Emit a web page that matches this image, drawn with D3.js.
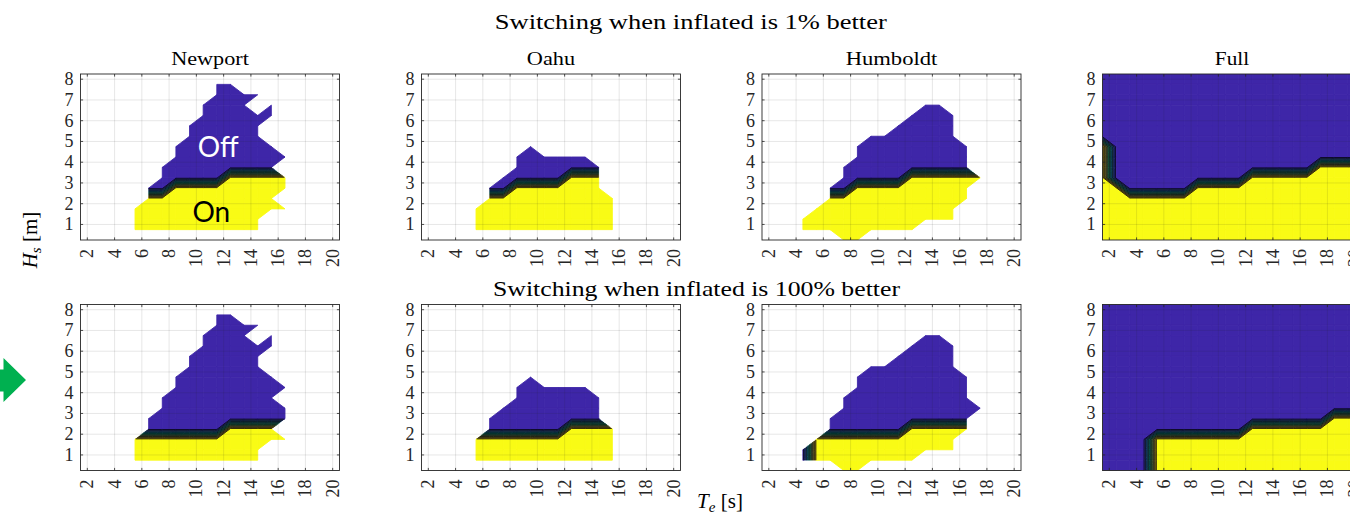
<!DOCTYPE html>
<html>
<head>
<meta charset="utf-8">
<script src="https://cdn.jsdelivr.net/npm/d3@7"></script>
<style>
body { margin: 0; background: #fff; }
svg { display: block; }
</style>
</head>
<body>
<div id="chart"></div>
<script>
// node grid: Te columns 1.5 .. 20.5, Hs rows 8.25 (top) .. 0.25 (bottom)
var teNodes = d3.range(1.5, 21, 1);
var hsNodes = d3.range(8.25, 0, -0.5);

var sites = ["Newport", "Oahu", "Humboldt", "Full"];
var rowTitles = ["Switching when inflated is 1% better", "Switching when inflated is 100% better"];
var xTicks = d3.range(2, 21, 2);
var yTicks = d3.range(1, 9);

// y = inflated (on), b = deflated (off), . = no data
var newport1 = [
  "....................",
  "..........bb........",
  "..........bbbb......",
  ".........bbbb.b.....",
  ".........bbbbbb.....",
  "........bbbbbb......",
  "........bbbbbb......",
  ".......bbbbbbbb.....",
  ".......bbbbbbbbb....",
  "......bbbbbbbbb.....",
  "......bbbbbyyyyy....",
  ".....bbyyyyyyyyy....",
  ".....yyyyyyyyyy.....",
  "....yyyyyyyyyyyy....",
  "....yyyyyyyyyy......",
  "....yyyyyyyyyy......",
  "...................."
];
var oahu1 = [
  "....................",
  "....................",
  "....................",
  "....................",
  "....................",
  "....................",
  "....................",
  "........b...........",
  ".......bbbbbb.......",
  ".......bbbbbbb......",
  "......bbbbbyyy......",
  ".....bbyyyyyyy......",
  ".....yyyyyyyyyy.....",
  "....yyyyyyyyyyy.....",
  "....yyyyyyyyyyy.....",
  "....yyyyyyyyyyy.....",
  "...................."
];
var humboldt1 = [
  "....................",
  "....................",
  "....................",
  "............bb......",
  "...........bbbb.....",
  "..........bbbbb.....",
  "........bbbbbbb.....",
  ".......bbbbbbbbb....",
  ".......bbbbbbbbb....",
  "......bbbbbbbbbb....",
  "......bbbbbyyyyyy...",
  ".....bbyyyyyyyyy....",
  ".....yyyyyyyyyyy....",
  "....yyyyyyyyyyy.....",
  "...yyyyyyyyyyyy.....",
  "...yyyyyyyyy........",
  "......yy............"
];
var full1 = [
  "bbbbbbbbbbbbbbbbbbbb",
  "bbbbbbbbbbbbbbbbbbbb",
  "bbbbbbbbbbbbbbbbbbbb",
  "bbbbbbbbbbbbbbbbbbbb",
  "bbbbbbbbbbbbbbbbbbbb",
  "bbbbbbbbbbbbbbbbbbbb",
  "bbbbbbbbbbbbbbbbbbbb",
  "ybbbbbbbbbbbbbbbbbbb",
  "ybbbbbbbbbbbbbbbbbbb",
  "ybbbbbbbbbbbbbbbyyyy",
  "ybbbbbbbbbbyyyyyyyyy",
  "yybbbbbyyyyyyyyyyyyy",
  "yyyyyyyyyyyyyyyyyyyy",
  "yyyyyyyyyyyyyyyyyyyy",
  "yyyyyyyyyyyyyyyyyyyy",
  "yyyyyyyyyyyyyyyyyyyy",
  "yyyyyyyyyyyyyyyyyyyy"
];
var newport2 = [
  "....................",
  "..........bb........",
  "..........bbbb......",
  ".........bbbb.b.....",
  ".........bbbbbb.....",
  "........bbbbbb......",
  "........bbbbbb......",
  ".......bbbbbbbb.....",
  ".......bbbbbbbbb....",
  "......bbbbbbbbb.....",
  "......bbbbbbbbbb....",
  ".....bbbbbbbbbbb....",
  ".....bbbbbbyyyy.....",
  "....yyyyyyyyyyyy....",
  "....yyyyyyyyyy......",
  "....yyyyyyyyyy......",
  "...................."
];
var oahu2 = [
  "....................",
  "....................",
  "....................",
  "....................",
  "....................",
  "....................",
  "....................",
  "........b...........",
  ".......bbbbbb.......",
  ".......bbbbbbb......",
  "......bbbbbbbb......",
  ".....bbbbbbbbb......",
  ".....bbbbbbyyyy.....",
  "....yyyyyyyyyyy.....",
  "....yyyyyyyyyyy.....",
  "....yyyyyyyyyyy.....",
  "...................."
];
var humboldt2 = [
  "....................",
  "....................",
  "....................",
  "............bb......",
  "...........bbbb.....",
  "..........bbbbb.....",
  "........bbbbbbb.....",
  ".......bbbbbbbbb....",
  ".......bbbbbbbbb....",
  "......bbbbbbbbbb....",
  "......bbbbbbbbbbb...",
  ".....bbbbbbbbbbb....",
  ".....bbbbbbyyyyy....",
  "....yyyyyyyyyyy.....",
  "...byyyyyyyyyyy.....",
  "...byyyyyyyy........",
  "......yy............"
];
var full2 = [
  "bbbbbbbbbbbbbbbbbbbb",
  "bbbbbbbbbbbbbbbbbbbb",
  "bbbbbbbbbbbbbbbbbbbb",
  "bbbbbbbbbbbbbbbbbbbb",
  "bbbbbbbbbbbbbbbbbbbb",
  "bbbbbbbbbbbbbbbbbbbb",
  "bbbbbbbbbbbbbbbbbbbb",
  "bbbbbbbbbbbbbbbbbbbb",
  "bbbbbbbbbbbbbbbbbbbb",
  "bbbbbbbbbbbbbbbbbbbb",
  "bbbbbbbbbbbbbbbbbbbb",
  "bbbbbbbbbbbbbbbbbyyy",
  "bbbbbbbbbbbyyyyyyyyy",
  "bbbbyyyyyyyyyyyyyyyy",
  "bbbbyyyyyyyyyyyyyyyy",
  "bbbbyyyyyyyyyyyyyyyy",
  "bbbbyyyyyyyyyyyyyyyy"
];
var grids = [[newport1, oahu1, humboldt1, full1], [newport2, oahu2, humboldt2, full2]];

// annotation on the first panel
var noteText = ["Off", "On"];
var noteTe = [11.6, 11.1];
var noteHs = [4.23, 1.13];
var noteColor = ["#ffffff", "#000000"];

// layout
var W = 1350, H = 521;
var axLeft = [80.5, 421.5, 762, 1102.5],
    axTop = [74, 304.5],
    axW = 259,
    axH = 166,
    tickLen = 2.6;
var serif = "'Liberation Serif', 'Times New Roman', serif";
var titleLen = [392, 407];
var titleCx = [690.8, 696.5];
var titleY = [29, 296];
var siteLen = [77.7, 48.3, 91.7, 34.3];

// parula-ish colormap
var parula = d3.scaleLinear()
    .domain(d3.range(8).map(function (i) { return i / 7; }))
    .range(["#3e26a8", "#4852f4", "#2796eb", "#12bdb9", "#32c88c", "#a5be6a", "#fdc338", "#f9fb15"])
    .interpolate(d3.interpolateRgb);

var levels = d3.range(9).map(function (i) { return 0.05 + i * 0.1125; });
var bands = [{lo: -Infinity, hi: levels[0], color: parula(0), solid: true}];
for (var i = 0; i < levels.length - 1; i++) {
    var mid = (levels[i] + levels[i + 1]) / 2;
    bands.push({lo: levels[i], hi: levels[i + 1], color: d3.interpolateRgb(parula(mid), "#000")(0.45), solid: false});
}
bands.push({lo: levels[levels.length - 1], hi: Infinity, color: parula(1), solid: true});

var svg = d3.select("#chart")
    .append("svg")
    .attr("width", W)
    .attr("height", H)
    .style("background-color", "#fff");

// split a grid cell into triangles (like marching squares with linear edges)
function cellTris(P) {
    var valid = P.filter(function (p) { return !isNaN(p.v); });
    if (valid.length < 3) return [];
    if (valid.length === 3) return [valid];
    var odd = P.findIndex(function (p) {
        return P.filter(function (q) { return q.v === p.v; }).length === 1;
    });
    if (odd === 0 || odd === 2) return [[P[0], P[1], P[3]], [P[1], P[2], P[3]]];
    return [[P[0], P[1], P[2]], [P[0], P[2], P[3]]];
}

function clip(poly, t, above) {
    var out = [];
    if (!isFinite(t)) return poly;
    for (var i = 0; i < poly.length; i++) {
        var a = poly[i], b = poly[(i + 1) % poly.length];
        var ina = above ? a.v >= t : a.v <= t;
        var inb = above ? b.v >= t : b.v <= t;
        if (ina) out.push(a);
        if (ina !== inb) {
            var s = (t - a.v) / (b.v - a.v);
            out.push({x: a.x + s * (b.x - a.x), y: a.y + s * (b.y - a.y), v: t});
        }
    }
    return out;
}

function isoSeg(tri, t) {
    var pts = [];
    for (var i = 0; i < 3; i++) {
        var a = tri[i], b = tri[(i + 1) % 3];
        if ((a.v - t) * (b.v - t) < 0) {
            var s = (t - a.v) / (b.v - a.v);
            pts.push({x: a.x + s * (b.x - a.x), y: a.y + s * (b.y - a.y)});
        }
    }
    return pts.length === 2 ? pts : null;
}

function drawPanel(row, col) {
    var grid = grids[row][col];
    var left = axLeft[col], top = axTop[row];
    var x = d3.scaleLinear().domain([1.5, 20.5]).range([left, left + axW]);
    var y = d3.scaleLinear().domain([0.25, 8.25]).range([top + axH, top]);
    var cid = "clip" + row + col;

    svg.append("clipPath").attr("id", cid)
        .append("rect")
        .attr("x", left).attr("y", top).attr("width", axW).attr("height", axH);

    var val = grid.map(function (s) {
        return s.split("").map(function (ch) { return ch === "y" ? 1 : ch === "b" ? 0 : NaN; });
    });

    var solid = [], mixed = [], segs = [];
    for (var r = 0; r < hsNodes.length - 1; r++) {
        for (var c = 0; c < teNodes.length - 1; c++) {
            var P = [
                {x: teNodes[c], y: hsNodes[r + 1], v: val[r + 1][c]},
                {x: teNodes[c + 1], y: hsNodes[r + 1], v: val[r + 1][c + 1]},
                {x: teNodes[c + 1], y: hsNodes[r], v: val[r][c + 1]},
                {x: teNodes[c], y: hsNodes[r], v: val[r][c]}
            ];
            var same = P.every(function (p) { return p.v === P[0].v; });
            if (same && !isNaN(P[0].v)) {
                solid.push({poly: P, color: parula(P[0].v)});
                continue;
            }
            cellTris(P).forEach(function (tri) {
                bands.forEach(function (b) {
                    var poly = clip(clip(tri, b.lo, true), b.hi, false);
                    if (poly.length >= 3) (b.solid ? solid : mixed).push({poly: poly, color: b.color});
                });
                levels.forEach(function (t) {
                    var s = isoSeg(tri, t);
                    if (s) segs.push(s);
                });
            });
        }
    }

    var line = d3.line().x(function (d) { return x(d.x); }).y(function (d) { return y(d.y); });
    var g = svg.append("g").attr("clip-path", "url(#" + cid + ")");

    g.selectAll("path.solid")
        .data(solid)
        .enter()
        .append("path")
        .attr("class", "solid")
        .attr("d", function (d) { return line(d.poly) + "Z"; })
        .attr("fill", function (d) { return d.color; })
        .attr("stroke", function (d) { return d.color; })
        .attr("stroke-width", 0.9)
        .attr("stroke-linejoin", "round");

    g.selectAll("path.mixed")
        .data(mixed)
        .enter()
        .append("path")
        .attr("class", "mixed")
        .attr("d", function (d) { return line(d.poly) + "Z"; })
        .attr("fill", function (d) { return d.color; })
        .attr("stroke", function (d) { return d.color; })
        .attr("stroke-width", 0.4)
        .attr("stroke-linejoin", "round");

    g.selectAll("path.iso")
        .data(segs)
        .enter()
        .append("path")
        .attr("class", "iso")
        .attr("d", function (d) { return line(d); })
        .attr("stroke", "#000")
        .attr("stroke-width", 0.7)
        .attr("fill", "none");

    // grid lines
    g.selectAll("line.gx")
        .data(xTicks)
        .enter()
        .append("line")
        .attr("x1", x).attr("x2", x)
        .attr("y1", top).attr("y2", top + axH)
        .attr("stroke", "#262626").attr("stroke-opacity", 0.14).attr("stroke-width", 0.8);
    g.selectAll("line.gy")
        .data(yTicks)
        .enter()
        .append("line")
        .attr("y1", y).attr("y2", y)
        .attr("x1", left).attr("x2", left + axW)
        .attr("stroke", "#262626").attr("stroke-opacity", 0.14).attr("stroke-width", 0.8);

    // ticks (inside, on all four sides)
    var tk = svg.append("g").attr("stroke", "#262626").attr("stroke-width", 0.8);
    xTicks.forEach(function (t) {
        tk.append("line").attr("x1", x(t)).attr("x2", x(t)).attr("y1", top + axH).attr("y2", top + axH - tickLen);
        tk.append("line").attr("x1", x(t)).attr("x2", x(t)).attr("y1", top).attr("y2", top + tickLen);
    });
    yTicks.forEach(function (t) {
        tk.append("line").attr("y1", y(t)).attr("y2", y(t)).attr("x1", left).attr("x2", left + tickLen);
        tk.append("line").attr("y1", y(t)).attr("y2", y(t)).attr("x1", left + axW).attr("x2", left + axW - tickLen);
    });

    svg.append("rect")
        .attr("x", left).attr("y", top).attr("width", axW).attr("height", axH)
        .attr("fill", "none").attr("stroke", "#262626").attr("stroke-width", 0.9);

    // tick labels
    svg.selectAll(null)
        .data(yTicks)
        .enter()
        .append("text")
        .attr("x", left - 7)
        .attr("y", y)
        .attr("dy", "0.33em")
        .attr("text-anchor", "end")
        .attr("font-family", serif)
        .attr("font-size", "18px")
        .attr("fill", "#262626")
        .text(function (d) { return d; });

    svg.selectAll(null)
        .data(xTicks)
        .enter()
        .append("text")
        .attr("transform", function (d) { return "translate(" + x(d) + "," + (top + axH + 9) + ") rotate(-90)"; })
        .attr("dy", "0.33em")
        .attr("text-anchor", "end")
        .attr("font-family", serif)
        .attr("font-size", "18px")
        .attr("fill", "#262626")
        .text(function (d) { return d; });

    if (row === 0) {
        svg.append("text")
            .attr("x", left + axW / 2)
            .attr("y", 65)
            .attr("text-anchor", "middle")
            .attr("font-family", serif)
            .attr("font-size", "18px")
            .attr("textLength", siteLen[col])
            .attr("lengthAdjust", "spacingAndGlyphs")
            .attr("fill", "#000")
            .text(sites[col]);
    }

    if (row === 0 && col === 0) {
        svg.selectAll(null)
            .data(noteText)
            .enter()
            .append("text")
            .attr("x", function (d, i) { return x(noteTe[i]); })
            .attr("y", function (d, i) { return y(noteHs[i]); })
            .attr("text-anchor", "middle")
            .attr("font-family", "Lato, 'Open Sans', sans-serif")
            .attr("font-size", "28px")
            .attr("fill", function (d, i) { return noteColor[i]; })
            .text(function (d) { return d; });
    }
}

for (var row = 0; row < 2; row++) {
    for (var col = 0; col < 4; col++) drawPanel(row, col);
}

// row titles
rowTitles.forEach(function (t, i) {
    svg.append("text")
        .attr("x", titleCx[i])
        .attr("y", titleY[i])
        .attr("text-anchor", "middle")
        .attr("font-family", serif)
        .attr("font-size", "21px")
        .attr("textLength", titleLen[i])
        .attr("lengthAdjust", "spacingAndGlyphs")
        .attr("fill", "#000")
        .text(t);
});

// axis labels
var yl = svg.append("text")
    .attr("transform", "translate(37,240) rotate(-90)")
    .attr("text-anchor", "middle")
    .attr("font-family", serif)
    .attr("font-size", "21px")
    .attr("fill", "#000");
yl.append("tspan").attr("font-style", "italic").text("H");
yl.append("tspan").attr("font-style", "italic").attr("font-size", "15px").attr("dy", "4").text("s");
yl.append("tspan").attr("dy", "-4").text(" [m]");

var xl = svg.append("text")
    .attr("x", 720)
    .attr("y", 508)
    .attr("text-anchor", "middle")
    .attr("font-family", serif)
    .attr("font-size", "21px")
    .attr("fill", "#000");
xl.append("tspan").attr("font-style", "italic").text("T");
xl.append("tspan").attr("font-style", "italic").attr("font-size", "15px").attr("dy", "4").text("e");
xl.append("tspan").attr("dy", "-4").text(" [s]");

// green arrow at the left edge
svg.append("path")
    .attr("d", "M0,369.5 L3.5,369.5 L3.5,358 L26,380 L3.5,402 L3.5,391.5 L0,391.5 Z")
    .attr("fill", "#00b050");
</script>
</body>
</html>
